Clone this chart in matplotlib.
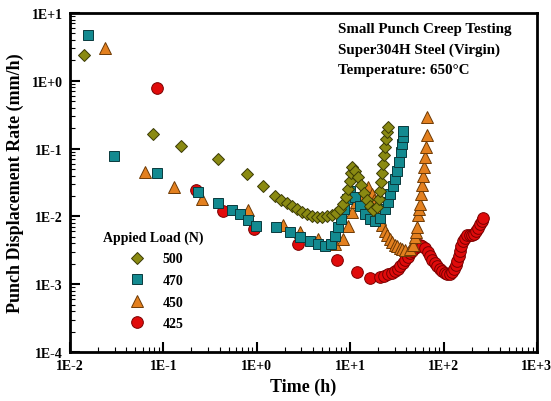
import numpy as np
import matplotlib
matplotlib.use('Agg')
import matplotlib.pyplot as plt
from matplotlib.ticker import LogLocator, NullFormatter

plt.rcParams['font.family'] = 'Liberation Serif'
plt.rcParams['font.weight'] = 'bold'

# small punch creep data: time (h) vs displacement rate (mm/h)
t_500 = [0.014, 0.077, 0.155, 0.385, 0.78, 1.16, 1.57, 1.82, 2.11, 2.38, 2.69,
         3.05, 3.45, 3.90, 4.41, 4.99, 5.65, 6.38, 7.05, 7.78, 8.38, 9.02, 9.47,
         9.95, 10.2, 10.45, 11.25, 12.1, 13.1, 14.1, 15.1, 16.3, 17.5, 19.4, 20.3,
         20.8, 21.4, 21.9, 22.4, 23.0, 23.6, 24.2, 24.8, 25.4]
r_500 = [2.4, 0.165, 0.11, 0.070, 0.042, 0.028, 0.020, 0.0175, 0.0158, 0.0142, 0.0129,
         0.0116, 0.0108, 0.0101, 0.0098, 0.0098, 0.0101, 0.0105, 0.0112, 0.0129, 0.0152, 0.0193, 0.0254,
         0.0333, 0.043, 0.0535, 0.0468, 0.0381, 0.029, 0.0221, 0.0175, 0.0142, 0.0124, 0.0138, 0.0181,
         0.0237, 0.0322, 0.0437, 0.0593, 0.0805, 0.106, 0.139, 0.176, 0.208]

t_470 = [0.0156, 0.0296, 0.0853, 0.234, 0.385, 0.542, 0.661, 0.806, 0.98, 1.61,
         2.27, 2.90, 3.71, 4.52, 5.37, 6.23, 6.88, 7.40, 7.97, 8.58,
         9.24, 9.95, 11.25, 12.7, 14.4, 16.3, 18.4, 20.8, 23.6, 25.4,
         26.7, 28.7, 30.2, 31.7, 33.3, 35.0, 35.9, 36.8, 37.0]
r_470 = [4.74, 0.0778, 0.0437, 0.0229, 0.0158, 0.0124, 0.0108, 0.00885, 0.00722, 0.00698,
         0.00589, 0.00497, 0.00434, 0.00392, 0.00366, 0.00392, 0.00514, 0.00698, 0.00916, 0.0129,
         0.0181, 0.0237, 0.0193, 0.0142, 0.0108, 0.00916, 0.00855, 0.00946, 0.0129, 0.0163,
         0.0214, 0.0281, 0.0356, 0.0468, 0.0634, 0.0891, 0.117, 0.148, 0.182]

t_450 = [0.0237, 0.0635, 0.130, 0.259, 0.806, 1.91, 2.90, 4.52, 6.88, 8.38,
         9.47, 10.45, 11.5, 13.4, 15.5, 17.1, 18.0, 18.9, 19.9, 20.8,
         21.9, 23.6, 24.8, 26.7, 28.0, 30.2, 31.7, 34.1, 35.9, 38.6,
         43.7, 47.0, 49.4, 50.6, 51.9, 53.2, 54.5, 55.9, 57.3, 58.7,
         60.2, 61.7, 63.2, 64.8, 66.4, 67.0]
r_450 = [3.05, 0.0452, 0.0272, 0.0181, 0.0124, 0.00747, 0.00589, 0.00464, 0.00392, 0.00464,
         0.00722, 0.0116, 0.0163, 0.0214, 0.0272, 0.0214, 0.0175, 0.0138, 0.0112, 0.00916,
         0.00747, 0.00609, 0.00532, 0.00464, 0.00419, 0.00379, 0.00366, 0.00342, 0.0033, 0.00319,
         0.0033, 0.00379, 0.00497, 0.00589, 0.00698, 0.0105, 0.0129, 0.0152, 0.0214, 0.029,
         0.0394, 0.0535, 0.0752, 0.106, 0.159, 0.292]

t_425 = [0.0853, 0.223, 0.435, 0.933, 2.76, 7.22, 11.8, 16.3, 20.8, 23.0,
         25.4, 28.0, 30.2, 32.5, 34.1, 36.8, 38.6, 41.6, 43.7, 45.9,
         49.4, 53.2, 55.9, 58.7, 63.2, 68.1, 71.5, 75.1, 80.9, 85.0,
         91.5, 96.1, 103.5, 108.7, 117, 123, 129, 136, 139, 146,
         150, 154, 161, 169, 178, 192, 201, 212, 222, 233,
         245, 258, 264]
r_425 = [0.783, 0.0245, 0.0120, 0.00652, 0.00392, 0.00227, 0.00151, 0.00123, 0.00128, 0.00132,
         0.00141, 0.00146, 0.00157, 0.00168, 0.00185, 0.00206, 0.00227, 0.00252, 0.00289, 0.00309,
         0.00342, 0.00366, 0.00379, 0.00366, 0.00342, 0.00298, 0.00261, 0.00227, 0.00206, 0.00185,
         0.00168, 0.00157, 0.00146, 0.00141, 0.00141, 0.00151, 0.00168, 0.00192, 0.0022, 0.00261,
         0.00309, 0.00366, 0.00434, 0.0048, 0.00532, 0.00532, 0.00532, 0.0055, 0.00609, 0.00675,
         0.00773, 0.00855, 0.00946]

loads = ['500', '470', '450', '425']
decades = [1e-2, 1e-1, 1e0, 1e1, 1e2, 1e3]
xlabels = ['1E-2', '1E-1', '1E+0', '1E+1', '1E+2', '1E+3']
ydecades = [1e-4, 1e-3, 1e-2, 1e-1, 1e0, 1e1]
ylabels = ['1E-4', '1E-3', '1E-2', '1E-1', '1E+0', '1E+1']

fig = plt.figure(figsize=(5.51, 4.02), dpi=100)
ax = fig.add_axes([0.127, 0.122, 0.8475, 0.8433])

h500, = ax.plot(t_500, r_500, ls='none', marker='D', ms=6.6, mfc='#8a8a12', mec='#3a3a05',
                mew=0.7, label=loads[0], zorder=5)
h470, = ax.plot(t_470, r_470, ls='none', marker='s', ms=7.4, mfc='#138a90', mec='#0a3a3d',
                mew=0.7, label=loads[1], zorder=4)
h450, = ax.plot(t_450, r_450, ls='none', marker='^', ms=8, mfc='#e3801f', mec='#6e3a05',
                mew=0.7, label=loads[2], zorder=3)
h425, = ax.plot(t_425, r_425, ls='none', marker='o', ms=8.4, mfc='#e00b0b', mec='#7a0000',
                mew=0.7, label=loads[3], zorder=2)

ax.set_xscale('log')
ax.set_yscale('log')
ax.set_xlim(1e-2, 1e3)
ax.set_ylim(1e-4, 1e1)
ax.set_xticks(decades)
ax.set_xticklabels(xlabels)
ax.set_yticks(ydecades)
ax.set_yticklabels(ylabels)
ax.xaxis.set_minor_locator(LogLocator(base=10, subs=np.arange(2, 10)))
ax.yaxis.set_minor_locator(LogLocator(base=10, subs=np.arange(2, 10)))
ax.xaxis.set_minor_formatter(NullFormatter())
ax.yaxis.set_minor_formatter(NullFormatter())
ax.tick_params(which='major', direction='in', length=7, width=1.5, labelsize=10, pad=5)
ax.tick_params(which='minor', direction='in', length=3.5, width=0.8)
for s in ax.spines.values():
    s.set_linewidth(2)

ax.set_xlabel('Time (h)', fontsize=13, fontweight='bold', labelpad=4)
ax.set_ylabel('Punch Displacement Rate (mm/h)', fontsize=13, fontweight='bold', labelpad=6)

ax.text(0.574, 0.953, 'Small Punch Creep Testing', transform=ax.transAxes,
        fontsize=10.8, va='center', ha='left')
ax.text(0.574, 0.894, 'Super304H Steel (Virgin)', transform=ax.transAxes,
        fontsize=10.8, va='center', ha='left')
ax.text(0.574, 0.832, 'Temperature: 650\u00b0C', transform=ax.transAxes,
        fontsize=10.8, va='center', ha='left')

leg = ax.legend(handles=[h500, h470, h450, h425], title='Appied Load (N)', loc='upper left',
                bbox_to_anchor=(0.059, 0.375), borderaxespad=0, frameon=False,
                numpoints=1, fontsize=10, title_fontsize=10, labelspacing=0.62)
leg.get_title().set_fontweight('bold')

fig.savefig('out.png', dpi=100)
